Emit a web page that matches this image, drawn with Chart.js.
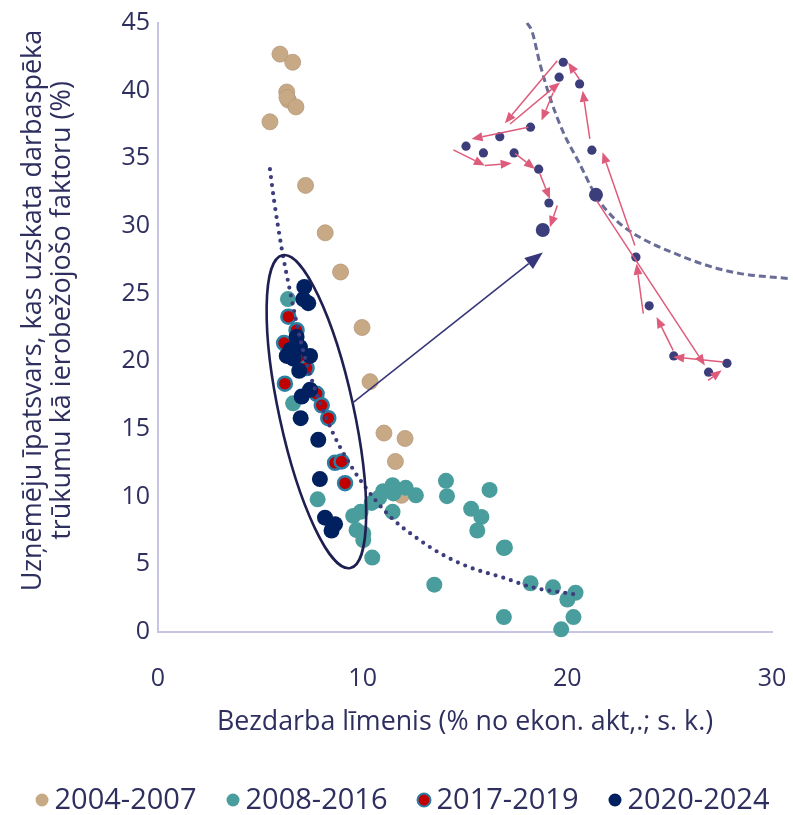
<!DOCTYPE html>
<html>
<head>
<meta charset="utf-8">
<script src="https://cdn.jsdelivr.net/npm/chart.js@4.4.1/dist/chart.umd.min.js"></script>
<style>
  html, body { margin: 0; padding: 0; background: #ffffff; }
  #wrap { width: 793px; height: 815px; }
</style>
</head>
<body>
<div id="wrap"><canvas id="chart" width="793" height="815"></canvas></div>
<script>
// Unemployment rate (x, %) vs share of firms citing labour shortage as a limiting factor (y, %)
const seriesNames = ['2004-2007', '2008-2016', '2017-2019', '2020-2024'];

const unemp0407 = [5.96, 6.58, 6.29, 6.37, 6.3, 6.74, 5.47, 7.21, 8.17, 8.92, 9.97, 10.36, 11.04, 12.07, 11.6, 11.9];
const short0407 = [42.7, 42.1, 39.9, 39.3, 39.5, 38.8, 37.7, 33.0, 29.5, 26.6, 22.5, 18.5, 14.7, 14.3, 12.6, 10.1];

const unemp0816 = [6.35, 6.6, 7.8, 9.54, 9.9, 9.7, 10.03, 10.03, 10.47, 10.44, 10.81, 10.6, 11.46, 11.5, 12.1, 12.6, 11.46,
                   14.07, 14.12, 16.2, 15.3, 15.8, 15.6, 16.9, 16.95, 13.5, 18.2, 19.3, 20.4, 20.0, 20.3, 19.7, 16.9, 11.0];
const short0816 = [24.6, 16.9, 9.8, 8.58, 8.88, 7.53, 7.28, 6.79, 5.5, 9.54, 9.94, 9.7, 10.85, 10.24, 10.65, 10.1, 8.88,
                   11.17, 10.04, 10.5, 9.1, 8.5, 7.5, 6.2, 6.25, 3.5, 3.6, 3.3, 2.9, 2.4, 1.1, 0.2, 1.1, 10.4];

const unemp1719 = [6.37, 6.77, 6.16, 7.1, 7.26, 6.2, 7.75, 8.0, 8.32, 8.65, 8.97, 9.14];
const short1719 = [23.3, 22.3, 21.35, 20.2, 19.5, 18.35, 17.6, 16.75, 15.8, 12.5, 12.6, 11.0];

const unemp2024 = [7.15, 7.34, 7.1, 6.77, 6.53, 6.29, 6.61, 7.43, 6.9, 7.02, 7.43, 6.97, 7.83, 7.91, 8.16, 8.65, 8.48, 6.94, 6.45];
const short2024 = [25.5, 24.3, 24.6, 21.8, 20.9, 20.4, 20.2, 20.4, 19.3, 17.4, 17.9, 15.8, 14.2, 11.3, 8.45, 7.97, 7.5, 21.05, 20.8];

// Fitted trend curve (dotted)
const trendUnemp    = [5.47, 5.67, 6.06, 6.45, 6.94, 7.5, 8.55, 9.5, 10.7, 11.5, 12.5, 13.8, 15.2, 16.9, 18.3, 20.3];
const trendShortage = [34.2, 31.9, 28.2, 25.2, 21.7, 18.7, 14.7, 12.1, 9.6, 8.3, 7.1, 5.8, 4.8, 4.0, 3.3, 2.8];

// Schematic path of the recent period (upper right)
const pathUnemp    = [19.8, 19.6, 20.6, 18.2, 16.7, 15.05, 15.9, 17.4, 18.6, 19.1, 18.8, 21.2, 21.4, 23.35, 24.0, 25.2, 27.8, 26.9];
const pathShortage = [42.1, 41.0, 40.5, 37.3, 36.6, 35.9, 35.4, 35.4, 34.2, 31.7, 29.7, 35.6, 32.3, 27.7, 24.1, 20.4, 19.85, 19.2];
const pathKeyPoint = [false, false, false, false, false, false, false, false, false, false, true, false, true, false, false, false, false, false];

const curveUnemp    = [18.03, 18.27, 18.66, 19.15, 19.78, 20.6, 21.45, 22.4, 23.5, 25.2, 26.8, 28.4, 30.9];
const curveShortage = [45.0, 44.4, 42.0, 39.5, 37.0, 34.6, 32.1, 30.4, 29.2, 28.0, 27.1, 26.5, 26.1];

// Path arrows: [fromX, fromY, toX, toY]
const pathArrows = [
  [21.43, 31.88, 26.72, 19.70],
  [26.88, 18.60, 27.54, 19.34],
  [27.62, 19.95, 25.17, 20.32],
  [25.17, 20.81, 24.36, 23.27],
  [23.71, 23.52, 23.38, 27.21],
  [23.30, 28.56, 21.72, 35.45],
  [21.10, 36.43, 20.75, 40.00],
  [20.58, 40.86, 20.04, 42.09],
  [19.51, 42.21, 16.95, 37.59],
  [17.20, 37.54, 19.64, 40.61],
  [19.31, 39.87, 18.74, 37.79],
  [18.09, 37.29, 15.32, 36.43],
  [14.43, 35.62, 15.97, 34.47],
  [15.97, 34.47, 17.28, 34.64],
  [17.44, 35.37, 18.42, 34.22],
  [18.66, 33.85, 19.15, 32.00],
  [19.51, 31.51, 19.15, 29.91]
];

// Callout arrow from the highlighted cluster to the path
const calloutArrow = [9.48, 16.9, 18.8, 28.05];
// Highlighted cluster: ends of the ellipse's long axis
const clusterEnds = [6.1, 27.7, 9.38, 4.87];

const TEXT = '#2f2f5f';
const FONT = "'Open Sans', 'Noto Sans', sans-serif";
const yTitleLines = ['Uzņēmēju īpatsvars, kas uzskata darbaspēka', 'trūkumu kā ierobežojošo faktoru (%)'];

const pts = (xs, ys) => xs.map((x, i) => ({ x, y: ys[i] }));

function drawArrow(ctx, x1, y1, x2, y2, color, width, headLen, headW) {
  const ang = Math.atan2(y2 - y1, x2 - x1);
  const bx = x2 - headLen * Math.cos(ang);
  const by = y2 - headLen * Math.sin(ang);
  ctx.strokeStyle = color;
  ctx.lineWidth = width;
  ctx.beginPath();
  ctx.moveTo(x1, y1);
  ctx.lineTo(bx, by);
  ctx.stroke();
  ctx.fillStyle = color;
  ctx.beginPath();
  ctx.moveTo(x2, y2);
  ctx.lineTo(bx + headW / 2 * Math.sin(ang), by - headW / 2 * Math.cos(ang));
  ctx.lineTo(bx - headW / 2 * Math.sin(ang), by + headW / 2 * Math.cos(ang));
  ctx.closePath();
  ctx.fill();
}

const overlayPlugin = {
  id: 'overlay',
  afterDatasetsDraw(chart) {
    const { ctx } = chart;
    const xs = chart.scales.x, ys = chart.scales.y;
    ctx.save();
    // ellipse round the recent cluster
    const ax = xs.getPixelForValue(clusterEnds[0]), ay = ys.getPixelForValue(clusterEnds[1]);
    const bx = xs.getPixelForValue(clusterEnds[2]), by = ys.getPixelForValue(clusterEnds[3]);
    const cx = (ax + bx) / 2, cy = (ay + by) / 2;
    const semiMajor = Math.hypot(bx - ax, by - ay) / 2 + 2;
    const semiMinor = 1.82 * (xs.getPixelForValue(1) - xs.getPixelForValue(0));
    ctx.strokeStyle = '#1f1f52';
    ctx.lineWidth = 2.6;
    ctx.beginPath();
    ctx.ellipse(cx, cy, semiMajor, semiMinor, Math.atan2(by - ay, bx - ax), 0, Math.PI * 2);
    ctx.stroke();
    // callout arrow
    drawArrow(ctx,
      xs.getPixelForValue(calloutArrow[0]), ys.getPixelForValue(calloutArrow[1]),
      xs.getPixelForValue(calloutArrow[2]), ys.getPixelForValue(calloutArrow[3]),
      '#36367a', 1.6, 18, 14);
    // path arrows
    pathArrows.forEach(a => {
      drawArrow(ctx,
        xs.getPixelForValue(a[0]), ys.getPixelForValue(a[1]),
        xs.getPixelForValue(a[2]), ys.getPixelForValue(a[3]),
        '#de5b7c', 1.5, 11, 9);
    });
    ctx.restore();
  },
  afterDraw(chart) {
    const { ctx, chartArea } = chart;
    ctx.save();
    // two-line y-axis title
    ctx.translate(33, (chartArea.top + chartArea.bottom) / 2 - 17);
    ctx.rotate(-Math.PI / 2);
    ctx.font = "27px " + FONT;
    ctx.fillStyle = TEXT;
    ctx.textAlign = 'center';
    ctx.textBaseline = 'middle';
    ctx.fillText(yTitleLines[0], 0, 0);
    ctx.fillText(yTitleLines[1], 0, 29);
    ctx.restore();

    // legend row under the x-axis title, built from the four series
    ctx.save();
    ctx.font = "29px " + FONT;
    ctx.textBaseline = 'middle';
    ctx.textAlign = 'left';
    const r = 6.5, gap = 6, spacing = 30;
    const items = chart.data.datasets.slice(0, 4).map(ds => ({
      ds, w: 2 * r + gap + ctx.measureText(ds.label).width
    }));
    const total = items.reduce((s, it) => s + it.w, 0) + spacing * (items.length - 1);
    let x = chart.width / 2 + 6 - total / 2;
    const y = chart.height - 15;
    items.forEach(it => {
      ctx.beginPath();
      ctx.arc(x + r, y, r, 0, Math.PI * 2);
      ctx.fillStyle = it.ds.backgroundColor;
      ctx.fill();
      if (it.ds.borderWidth > 1) {
        ctx.lineWidth = 2;
        ctx.strokeStyle = it.ds.borderColor;
        ctx.stroke();
      }
      ctx.fillStyle = TEXT;
      ctx.fillText(it.ds.label, x + 2 * r + gap, y + 1);
      x += it.w + spacing;
    });
    ctx.restore();
  }
};

Chart.defaults.font.family = FONT;
Chart.defaults.color = TEXT;

new Chart(document.getElementById('chart'), {
  type: 'scatter',
  data: {
    datasets: [
      { label: seriesNames[0], data: pts(unemp0407, short0407), backgroundColor: '#c8a986', borderColor: '#b5987a',
        borderWidth: 0.8, pointRadius: 8, order: 7, clip: false },
      { label: seriesNames[1], data: pts(unemp0816, short0816), backgroundColor: '#4a9d9d', borderColor: '#4a9d9d',
        borderWidth: 0, pointRadius: 8, order: 6, clip: false },
      { label: seriesNames[2], data: pts(unemp1719, short1719), backgroundColor: '#c00000', borderColor: '#2a7fa3',
        borderWidth: 2.5, pointRadius: 7, order: 5, clip: false },
      { label: seriesNames[3], data: pts(unemp2024, short2024), backgroundColor: '#002060', borderColor: '#002060',
        borderWidth: 0, pointRadius: 8, order: 4, clip: false },
      { label: 'trend', type: 'line', data: pts(trendUnemp, trendShortage), borderColor: '#3d3d7d', borderWidth: 4.2,
        borderDash: [0, 8], borderCapStyle: 'round', pointRadius: 0, cubicInterpolationMode: 'monotone', fill: false, order: 3 },
      { label: 'curve', type: 'line', data: pts(curveUnemp, curveShortage), borderColor: 'rgba(78,82,132,0.85)', borderWidth: 3,
        borderDash: [7, 4], pointRadius: 0, cubicInterpolationMode: 'monotone', fill: false, clip: false, order: 2 },
      { label: 'path', data: pts(pathUnemp, pathShortage), backgroundColor: '#3b3e7a', borderWidth: 0,
        pointRadius: pathKeyPoint.map(k => k ? 7 : 4.6), order: 1, clip: false }
    ]
  },
  options: {
    responsive: false,
    animation: false,
    devicePixelRatio: 1,
    events: [],
    layout: { padding: { left: 0, right: 21, top: 22, bottom: 60 } },
    scales: {
      x: {
        type: 'linear', min: 0, max: 30,
        grid: { display: false, drawTicks: false },
        border: { display: true, color: '#c6c6e4', width: 2 },
        ticks: { stepSize: 10, maxRotation: 0, padding: 32, color: TEXT, font: { size: 25 } },
        title: { display: true, text: 'Bezdarba līmenis (% no ekon. akt,.; s. k.)', color: TEXT,
                 font: { size: 26.8 }, padding: { top: 0, bottom: 17 } },
        afterFit(scale) {
          scale.height = 123;
          scale.paddingLeft = 0;
          scale.paddingRight = 0;
        }
      },
      y: {
        type: 'linear', min: 0, max: 45,
        grid: { display: false, drawTicks: false },
        border: { display: true, color: '#c6c6e4', width: 2 },
        ticks: { stepSize: 5, padding: 8, color: TEXT, font: { size: 25 } },
        afterFit(scale) { scale.width = 158; }
      }
    },
    plugins: {
      tooltip: { enabled: false },
      legend: { display: false }
    }
  },
  plugins: [overlayPlugin]
});
</script>
</body>
</html>
